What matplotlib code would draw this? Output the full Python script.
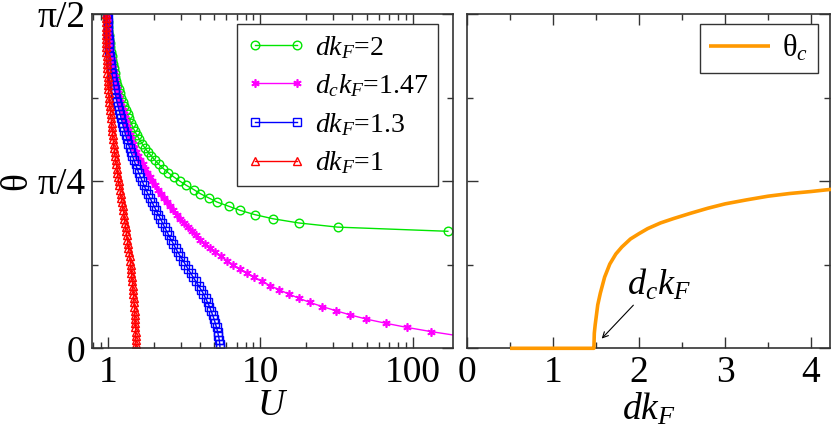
import numpy as np
import matplotlib
matplotlib.use("Agg")
import matplotlib.pyplot as plt
from matplotlib.ticker import FixedLocator, NullFormatter, MultipleLocator, LogLocator, FixedFormatter

# ---------------- data ----------------
# theta sampled as a fraction of pi/2 (common grid for all curves of the left panel)
theta_frac = [1.0, 0.9875, 0.975, 0.9625, 0.95, 0.9375, 0.925, 0.9125, 0.9, 0.8875,
              0.875, 0.8625, 0.85, 0.8375, 0.825, 0.8125, 0.8, 0.7875, 0.775, 0.7625,
              0.75, 0.7375, 0.725, 0.7125, 0.7, 0.6875, 0.675, 0.6625, 0.65, 0.6375,
              0.625, 0.6125, 0.6, 0.5875, 0.575, 0.5625, 0.55, 0.5375, 0.525, 0.5125,
              0.5, 0.4875, 0.475, 0.4625, 0.45, 0.4375, 0.425, 0.4125, 0.4, 0.3875,
              0.375, 0.3625, 0.35, 0.3375, 0.325, 0.3125, 0.3, 0.2875, 0.275, 0.2625,
              0.25, 0.2375, 0.225, 0.2125, 0.2, 0.1875, 0.175, 0.1625, 0.15, 0.1375,
              0.125, 0.1125, 0.1, 0.0875, 0.075, 0.0625, 0.05, 0.0375, 0.025, 0.0125,
              0.0]

U_green = [0.985, 0.992, 0.997, 1.003, 1.009, 1.015, 1.023, 1.031, 1.040, 1.049,
           1.059, 1.069, 1.080, 1.093, 1.106, 1.120, 1.137, 1.154, 1.176, 1.197,
           1.226, 1.254, 1.283, 1.314, 1.346, 1.380, 1.415, 1.454, 1.499, 1.550,
           1.609, 1.673, 1.746, 1.829, 1.929, 2.037, 2.163, 2.312, 2.493, 2.709,
           2.966, 3.272, 3.653, 4.043, 4.581, 5.201, 6.197, 7.393, 9.176, 12.12,
           17.83, 32.13, 170.2]

U_magenta = [0.992, 0.995, 1.000, 1.005, 1.009, 1.014, 1.020, 1.026, 1.032, 1.040,
             1.048, 1.057, 1.069, 1.080, 1.093, 1.106, 1.121, 1.137, 1.154, 1.172,
             1.190, 1.208, 1.228, 1.248, 1.269, 1.290, 1.314, 1.338, 1.363, 1.388,
             1.415, 1.452, 1.492, 1.535, 1.582, 1.633, 1.688, 1.748, 1.812, 1.882,
             1.958, 2.040, 2.128, 2.222, 2.325, 2.437, 2.558, 2.688, 2.834, 2.993,
             3.166, 3.353, 3.556, 3.777, 4.025, 4.307, 4.654, 5.065, 5.506, 6.034,
             6.624, 7.320, 8.159, 9.115, 10.26, 11.64, 13.32, 15.37, 17.88, 21.10,
             25.45, 31.29, 38.92, 49.51, 66.48, 91.65, 132.0, 198.6]

U_blue = [0.992, 0.994, 0.997, 1.000, 1.003, 1.006, 1.011, 1.015, 1.020, 1.024,
          1.029, 1.035, 1.043, 1.051, 1.061, 1.070, 1.082, 1.093, 1.105, 1.118,
          1.132, 1.147, 1.165, 1.183, 1.202, 1.222, 1.243, 1.263, 1.285, 1.308,
          1.332, 1.359, 1.388, 1.417, 1.450, 1.483, 1.519, 1.556, 1.594, 1.636,
          1.679, 1.724, 1.775, 1.829, 1.886, 1.946, 2.008, 2.073, 2.140, 2.210,
          2.281, 2.356, 2.433, 2.512, 2.594, 2.688, 2.780, 2.879, 2.992, 3.108,
          3.230, 3.356, 3.491, 3.630, 3.780, 3.933, 4.089, 4.240, 4.379, 4.510,
          4.637, 4.751, 4.863, 4.970, 5.067, 5.163, 5.244, 5.315, 5.379, 5.420,
          5.443]

U_red = [0.975, 0.975, 0.975, 0.975, 0.975, 0.976, 0.977, 0.978, 0.978, 0.979,
         0.981, 0.983, 0.985, 0.988, 0.991, 0.996, 1.000, 1.005, 1.009, 1.014,
         1.018, 1.024, 1.031, 1.037, 1.043, 1.049, 1.056, 1.062, 1.069, 1.075,
         1.082, 1.090, 1.098, 1.106, 1.115, 1.125, 1.135, 1.146, 1.156, 1.165,
         1.174, 1.186, 1.199, 1.211, 1.224, 1.237, 1.250, 1.262, 1.273, 1.283,
         1.295, 1.306, 1.318, 1.328, 1.340, 1.353, 1.365, 1.377, 1.390, 1.400,
         1.411, 1.419, 1.428, 1.437, 1.446, 1.454, 1.463, 1.472, 1.479, 1.486,
         1.492, 1.499, 1.504, 1.508, 1.513, 1.517, 1.522, 1.524, 1.526, 1.529,
         1.531]

labels_left = [r'$dk_F$=2', r'$d_ck_F$=1.47', r'$dk_F$=1.3', r'$dk_F$=1']

# right panel: critical angle theta_c (fraction of pi/2) vs d k_F
dkF = [0.5, 1.47, 1.475, 1.48, 1.49, 1.50, 1.52, 1.55, 1.60, 1.66, 1.73, 1.80,
       1.90, 2.00, 2.10, 2.25, 2.40, 2.60, 2.80, 3.00, 3.25, 3.50, 3.75, 4.00, 4.25]
theta_c_frac = [0.0, 0.0, 0.0, 0.045, 0.07, 0.09, 0.13, 0.165, 0.213, 0.252, 0.282, 0.303,
                0.327, 0.343, 0.358, 0.375, 0.388, 0.404, 0.419, 0.432, 0.444, 0.455,
                0.463, 0.469, 0.476]

ytick_labels = ['0', 'π/4', 'π/2']
xtick_labels_left = ['1', '10', '100']
xtick_labels_right = ['0', '1', '2', '3', '4']

# ---------------- style ----------------
plt.rcParams['font.family'] = ['Liberation Serif', 'DejaVu Serif']
plt.rcParams['mathtext.fontset'] = 'custom'
plt.rcParams['mathtext.rm'] = 'Liberation Serif'
plt.rcParams['mathtext.it'] = 'Liberation Serif:italic'
plt.rcParams['mathtext.bf'] = 'Liberation Serif:bold'

HP = np.pi / 2
W, H = 831, 432
fig = plt.figure(figsize=(W / 100, H / 100), dpi=100)
ax1 = fig.add_axes([92.3 / W, 83.7 / H, 360.7 / W, 334.3 / H])
ax2 = fig.add_axes([467.0 / W, 83.7 / H, 363.0 / W, 334.3 / H])

th = np.array(theta_frac) * HP

c_green = '#00e600'
c_mag = '#ff00ff'
c_blue = '#0000ff'
c_red = '#ff0000'
c_orange = '#ff9900'

ax1.plot(U_green, th[:len(U_green)], color=c_green, lw=1.0, marker='o', ms=6.2,
         mfc='none', mew=1.0, label=labels_left[0])
ax1.plot(U_magenta, th[:len(U_magenta)], color=c_mag, lw=1.0, marker=(6, 2, 0), ms=6.0,
         mew=1.2, label=labels_left[1])
ax1.plot(U_blue, th[:len(U_blue)], color=c_blue, lw=1.0, marker='s', ms=5.2,
         mfc='none', mew=1.0, label=labels_left[2])
ax1.plot(U_red, th[:len(U_red)], color=c_red, lw=1.0, marker='^', ms=5.5,
         mfc='none', mew=1.0, label=labels_left[3])

ax1.set_xscale('log')
ax1.set_xlim(0.79, 184)
ax1.set_ylim(0, HP)
ax1.xaxis.set_major_locator(FixedLocator([1, 10, 100]))
ax1.xaxis.set_major_formatter(FixedFormatter(xtick_labels_left))
ax1.xaxis.set_minor_locator(LogLocator(base=10, subs=np.arange(2, 10)))
ax1.xaxis.set_minor_formatter(NullFormatter())

for ax in (ax1, ax2):
    ax.yaxis.set_major_locator(FixedLocator([0, HP / 2, HP]))
    ax.yaxis.set_minor_locator(FixedLocator([HP / 4, 3 * HP / 4]))
    ax.tick_params(which='both', direction='in', top=True, right=True, width=1.0,
                   color='#333333', labelsize=27, pad=5)
    ax.tick_params(which='major', length=8)
    ax.tick_params(which='minor', length=4)
    for s in ax.spines.values():
        s.set_linewidth(1.2)
        s.set_color('#333333')

ax1.yaxis.set_major_formatter(FixedFormatter(ytick_labels))
ax1.set_ylabel('θ', fontsize=27, labelpad=2)
ax1.set_xlabel(r'$U$', fontsize=27, labelpad=-1)

leg1 = ax1.legend(loc='upper right', bbox_to_anchor=(0.959, 0.970), borderaxespad=0,
                  fontsize=20, numpoints=2, handlelength=2.1, handletextpad=0.35,
                  labelspacing=0.42, borderpad=0.35, fancybox=False, framealpha=1,
                  edgecolor='#333333')
leg1.get_frame().set_linewidth(1.0)

# right panel
ax2.plot(dkF, np.array(theta_c_frac) * HP, color=c_orange, lw=2.6, label='θ$_c$',
         clip_on=False, zorder=5, solid_capstyle='butt')
ax2.set_xlim(0, 4.22)
ax2.set_ylim(0, HP)
ax2.xaxis.set_major_locator(FixedLocator([0, 1, 2, 3, 4]))
ax2.xaxis.set_major_formatter(FixedFormatter(xtick_labels_right))
ax2.xaxis.set_minor_locator(MultipleLocator(0.5))
ax2.yaxis.set_major_formatter(NullFormatter())
ax2.set_xlabel(r'$dk_F$', fontsize=27, labelpad=1)

leg2 = ax2.legend(loc='upper right', bbox_to_anchor=(0.966, 0.970), borderaxespad=0,
                  fontsize=22, handlelength=2.0, handletextpad=0.4, borderpad=0.3,
                  fancybox=False, framealpha=1, edgecolor='#333333')
leg2.get_frame().set_linewidth(1.0)

ax2.annotate('', xy=(1.566, 0.029 * HP), xytext=(1.934, 0.129 * HP),
             arrowprops=dict(arrowstyle='->', lw=0.8, color='black',
                             shrinkA=0, shrinkB=0))
ax2.text(1.86, 0.159 * HP, r'$d_ck_F$', fontsize=26, ha='left', va='baseline')

fig.savefig('out.png', dpi=100)
